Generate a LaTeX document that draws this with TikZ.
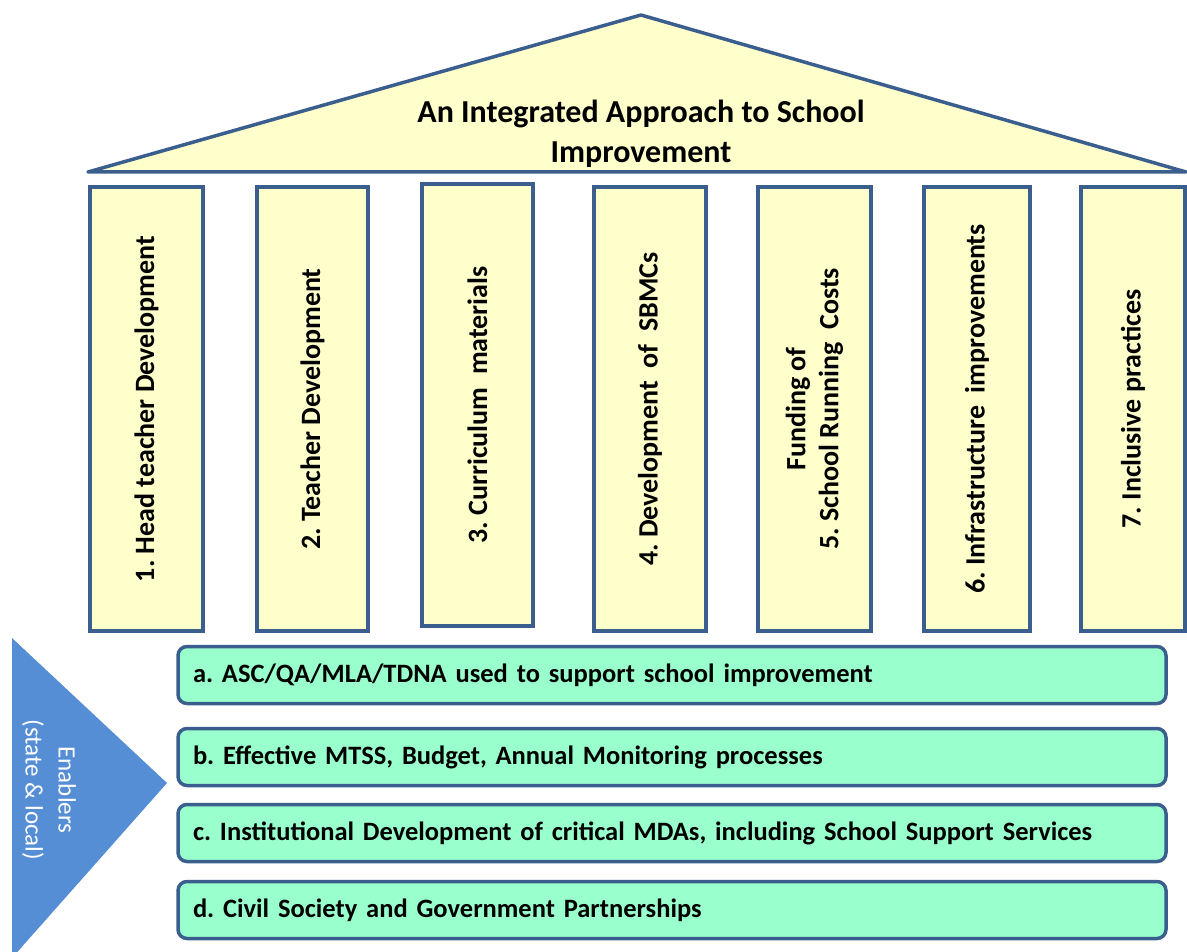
\documentclass[tikz,border=0pt]{standalone}
\usepackage{fontspec}
\setmainfont{Carlito}
\usetikzlibrary{positioning}
\definecolor{edgeblue}{HTML}{3A5F8E}
\definecolor{roofyellow}{HTML}{FFFFCC}
\definecolor{barGreen}{HTML}{99FFCC}
\definecolor{enablerBlue}{HTML}{558ED5}
\tikzset{
  pillar/.style={draw=edgeblue, line width=3.5pt, fill=roofyellow, rotate=90,
    minimum width=444pt, minimum height=111pt, inner sep=0pt,
    font=\fontsize{28}{33}\selectfont\bfseries, align=center},
  enabler/.style={draw=edgeblue, line width=3.5pt, fill=barGreen, rounded corners=9pt,
    minimum width=988pt, minimum height=57pt, inner xsep=15pt, inner ysep=0pt,
    text width=958pt, align=left, font=\fontsize{26.5}{30}\selectfont\bfseries},
}
\begin{document}
\frenchspacing
\begin{tikzpicture}[x=1pt,y=-1pt]
\useasboundingbox (0,0) rectangle (1187,952);
% roof
\coordinate (rl) at (88,172);
\coordinate (rt) at (641,15);
\coordinate (rr) at (1186,172);
\draw[edgeblue, line width=3.5pt, fill=roofyellow, line join=round] (rl) -- (rt) -- (rr) -- cycle;
\node[font=\fontsize{32}{40}\selectfont\bfseries, align=center] (title) at (641,134)
  {An Integrated Approach to School\\Improvement};
% pillars
\node[pillar, minimum height=113pt] (p1) at (146.5,409) {1. Head teacher Development};
\node[pillar] (p2) at (312.5,409) {2. Teacher Development};
\node[pillar, minimum width=442pt] (p3) at (477.5,405) {3. Curriculum\ \ materials};
\node[pillar, minimum height=112pt] (p4) at (650,409) {4. Development\ \ of\ \ SBMCs};
\node[pillar, minimum height=113pt] (p5) at (814.5,409) {Funding of\\5. School Running\ \ Costs};
\node[pillar, minimum height=106pt] (p6) at (977,409) {6. Infrastructure\ \ improvements};
\node[pillar, minimum height=104pt] (p7) at (1133,409) {7. Inclusive practices};
% enablers triangle
\begin{scope}
\clip (0,0) rectangle (1187,952);
\coordinate (ta) at (12,638);
\coordinate (tb) at (167,783);
\coordinate (tc) at (12,958);
\fill[enablerBlue] (ta) -- (tb) -- (tc) -- cycle;
\end{scope}
\node[rotate=-90, text=white, align=center, font=\fontsize{25}{33}\selectfont] (enab) at (49,790)
  {Enablers\\(state \& local)};
% bars
\node[enabler] (ea) at (672,675) {a. ASC/QA/MLA/TDNA used to support school improvement};
\node[enabler] (eb) at (672,757) {b. Effective MTSS, Budget, Annual Monitoring processes};
\node[enabler] (ec) at (672,833) {c. Institutional Development of critical MDAs, including School Support Services};
\node[enabler] (ed) at (672,910) {d. Civil Society and Government Partnerships};
\end{tikzpicture}
\end{document}
